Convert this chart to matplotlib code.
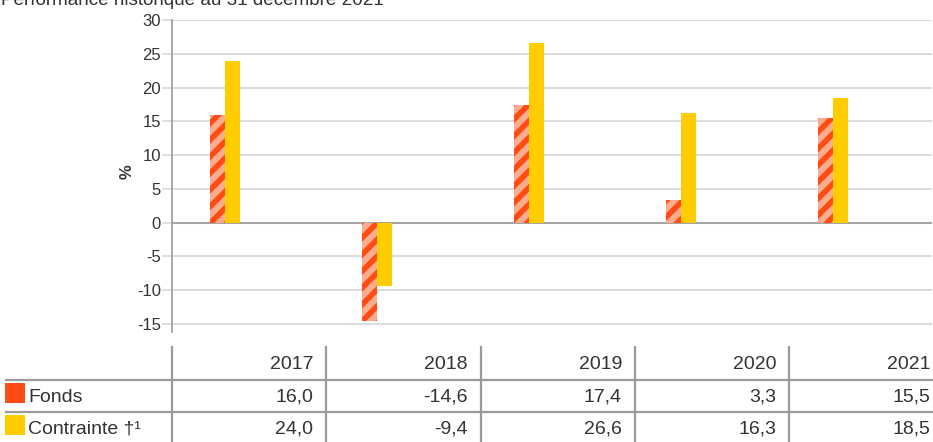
import matplotlib
matplotlib.use('Agg')
import matplotlib.pyplot as plt
import numpy as np

# data
years = ['2017', '2018', '2019', '2020', '2021']
fonds = [16.0, -14.6, 17.4, 3.3, 15.5]
contrainte = [24.0, -9.4, 26.6, 16.3, 18.5]
series_names = ['Fonds', 'Contrainte \u2020\u00b9']
yticks = [-15, -10, -5, 0, 5, 10, 15, 20, 25, 30]

red = '#ff4b14'
salmon = '#fcad8e'
yellow = '#ffcc00'
grey_txt = '#333333'
grid_col = '#d9d9d9'
line_col = '#9a9a9a'

plt.rcParams['font.family'] = ['Liberation Sans', 'DejaVu Sans']
plt.rcParams['axes.unicode_minus'] = False
plt.rcParams['hatch.linewidth'] = 4.0

W, H = 933, 442
fig = plt.figure(figsize=(W / 100, H / 100), dpi=100)

# chart area
ax = fig.add_axes([172 / W, 1 - 332 / H, 760 / W, 312 / H])
x = np.arange(len(years))
bw = 0.1
ax.bar(x + 0.25, fonds, width=bw, align='edge', color=salmon,
       edgecolor=red, hatch='//', linewidth=0, zorder=3)
ax.bar(x + 0.25 + bw, contrainte, width=bw, align='edge', color=yellow,
       linewidth=0, zorder=3)

ax.set_xlim(0, len(years))
ax.set_ylim(-16.2, 30)
ax.set_yticks(yticks)
ax.set_xticks([])
ax.yaxis.grid(True, color=grid_col, linewidth=1.3, zorder=0)
ax.axhline(0, color='#a5a5a5', linewidth=1.5, zorder=2)
for s in ['top', 'right', 'bottom']:
    ax.spines[s].set_visible(False)
ax.spines['left'].set_color(line_col)
ax.spines['left'].set_linewidth(1.2)
ax.tick_params(axis='y', length=7, width=1.2, color=grid_col, pad=1,
               labelsize=12, labelcolor=grey_txt)
ax.set_ylabel('%', fontsize=12, fontweight='bold', color=grey_txt)
ax.yaxis.set_label_coords(-37 / 760, (332 - 172) / 312)

fig.text(1 / W, 1 - 5 / H, 'Performance historique au 31 décembre 2021',
         fontsize=13.6, color=grey_txt, ha='left', va='baseline')

# table under the chart, in pixel coordinates
tb = fig.add_axes([0, 0, 1, 1], zorder=-1)
tb.set_xlim(0, W)
tb.set_ylim(H, 0)
tb.axis('off')

col_w = 154.3
col_x = [172 + col_w * i for i in range(len(years) + 1)]
for cx in col_x[:-1]:
    tb.plot([cx, cx], [347, H], color=line_col, linewidth=1.6)
for ly in [379.5, 411.5]:
    tb.plot([6, W], [ly, ly], color=line_col, linewidth=1.6)

row_y = [364.5, 397, 429]
for i, yr in enumerate(years):
    tb.text(col_x[i + 1] - 13, row_y[0], yr, ha='right', va='center',
            fontsize=14, color=grey_txt)
    for j, vals in enumerate([fonds, contrainte]):
        tb.text(col_x[i + 1] - 13, row_y[j + 1],
                f'{vals[i]:.1f}'.replace('.', ','),
                ha='right', va='center', fontsize=14, color=grey_txt)

for j, (name, c) in enumerate(zip(series_names, [red, yellow])):
    yc = row_y[j + 1] - 4
    tb.add_patch(plt.Rectangle((5, yc - 10), 20, 20, color=c, linewidth=0))
    tb.text(28, row_y[j + 1], name, ha='left', va='center', fontsize=14,
            color=grey_txt)

fig.savefig('out.png', dpi=100)
